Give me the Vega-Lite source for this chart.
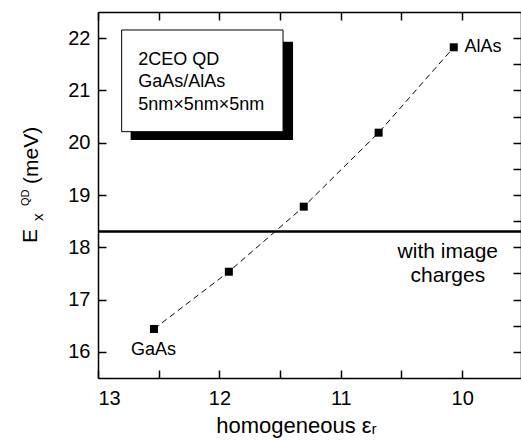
{
  "$schema": "https://vega.github.io/schema/vega-lite/v6.json",
  "width": 423,
  "height": 366,
  "autosize": "none",
  "padding": {"left": 98, "top": 12, "right": 0, "bottom": 63},
  "config": {
    "view": {"stroke": null},
    "font": "Liberation Sans",
    "axis": {
      "domainColor": "black",
      "domainWidth": 1.5,
      "tickColor": "black",
      "tickWidth": 1.5,
      "tickOpacity": 1,
      "labelColor": "black",
      "titleColor": "black",
      "labelFont": "Liberation Sans",
      "titleFont": "Liberation Sans",
      "labelFontSize": 20,
      "titleFontSize": 22,
      "titleFontWeight": "normal",
      "grid": false
    }
  },
  "datasets": {
    "pts": [
      {"eps": 12.539, "E": 16.438, "mat": "GaAs"},
      {"eps": 11.922, "E": 17.533, "mat": ""},
      {"eps": 11.305, "E": 18.777, "mat": ""},
      {"eps": 10.688, "E": 20.192, "mat": ""},
      {"eps": 10.069, "E": 21.825, "mat": "AlAs"}
    ],
    "box": [{"x1": 12.805, "x2": 11.4755, "y1": 22.156, "y2": 20.211}],
    "shadow": [{"x1": 12.731, "x2": 11.393, "y1": 21.932, "y2": 20.052}],
    "boxtext": [
      {"t": "2CEO QD", "x": 12.668, "y": 21.486},
      {"t": "GaAs/AlAs", "x": 12.668, "y": 21.071},
      {"t": "5nm×5nm×5nm", "x": 12.668, "y": 20.626}
    ],
    "lab_left": [{"t": "AlAs", "x": 9.981, "y": 21.836}],
    "lab_center": [{"t": "GaAs", "x": 12.543, "y": 15.94}],
    "lab_big": [
      {"t": "with image", "x": 10.118, "y": 17.79},
      {"t": "charges", "x": 10.118, "y": 17.342}
    ],
    "ytitle_big": [
      {"t": "E", "x": 13.5, "y": 18.082},
      {"t": "(meV)", "x": 13.494, "y": 19.211}
    ],
    "ytitle_sub": [{"t": "x", "x": 13.455, "y": 18.503}],
    "ytitle_sup": [{"t": "QD", "x": 13.57, "y": 18.79}]
  },
  "layer": [
    {
      "layer": [
        {
          "data": {"name": "shadow"},
          "mark": {"type": "rect", "fill": "black"},
          "encoding": {
            "x": {"field": "x1", "type": "quantitative", "scale": {"domain": [13, 9.515], "nice": false, "zero": false},
              "axis": {
                "orient": "bottom",
                "values": [13, 12.5, 12, 11.5, 11, 10.5, 10],
                "labelExpr": "datum.value % 1 === 0 ? format(datum.value, 'd') : ''",
                "ticks": true,
                "tickSize": -8,
                "labelPadding": 18,
                "title": "homogeneous εᵣ",
                "titlePadding": 7,
                "titleX": 198
              }},
            "x2": {"field": "x2"},
            "y": {"field": "y1", "type": "quantitative", "scale": {"domain": [15.5, 22.5], "nice": false, "zero": false},
              "axis": {
                "orient": "left",
                "values": [16, 16.5, 17, 17.5, 18, 18.5, 19, 19.5, 20, 20.5, 21, 21.5, 22],
                "labelExpr": "datum.value % 1 === 0 ? format(datum.value, 'd') : ''",
                "ticks": true,
                "tickSize": -8,
                "labelPadding": 16,
                "title": null
              }},
            "y2": {"field": "y2"}
          }
        },
        {
          "data": {"name": "box"},
          "mark": {"type": "rect", "fill": "white", "stroke": "black", "strokeWidth": 1},
          "encoding": {
            "x": {"field": "x1", "type": "quantitative"},
            "x2": {"field": "x2"},
            "y": {"field": "y1", "type": "quantitative"},
            "y2": {"field": "y2"}
          }
        },
        {
          "data": {"name": "boxtext"},
          "mark": {"type": "text", "align": "left", "baseline": "alphabetic", "fontSize": 18, "color": "black"},
          "encoding": {
            "x": {"field": "x", "type": "quantitative"},
            "y": {"field": "y", "type": "quantitative"},
            "text": {"field": "t"}
          }
        },
        {
          "data": {"name": "pts"},
          "mark": {"type": "rule", "color": "black", "strokeWidth": 1.5},
          "encoding": {"y": {"datum": 18.3}}
        },
        {
          "data": {"name": "pts"},
          "mark": {"type": "line", "color": "black", "strokeWidth": 1, "strokeDash": [6, 4]},
          "encoding": {
            "x": {"field": "eps", "type": "quantitative"},
            "y": {"field": "E", "type": "quantitative"}
          }
        },
        {
          "data": {"name": "pts"},
          "mark": {"type": "square", "color": "black", "filled": true, "opacity": 1, "size": 64},
          "encoding": {
            "x": {"field": "eps", "type": "quantitative"},
            "y": {"field": "E", "type": "quantitative"}
          }
        },
        {
          "data": {"name": "lab_left"},
          "mark": {"type": "text", "align": "left", "baseline": "middle", "fontSize": 18, "color": "black"},
          "encoding": {
            "x": {"field": "x", "type": "quantitative"},
            "y": {"field": "y", "type": "quantitative"},
            "text": {"field": "t"}
          }
        },
        {
          "data": {"name": "lab_center"},
          "mark": {"type": "text", "align": "center", "baseline": "alphabetic", "fontSize": 18, "color": "black"},
          "encoding": {
            "x": {"field": "x", "type": "quantitative"},
            "y": {"field": "y", "type": "quantitative"},
            "text": {"field": "t"}
          }
        },
        {
          "data": {"name": "lab_big"},
          "mark": {"type": "text", "align": "center", "baseline": "alphabetic", "fontSize": 21, "color": "black"},
          "encoding": {
            "x": {"field": "x", "type": "quantitative"},
            "y": {"field": "y", "type": "quantitative"},
            "text": {"field": "t"}
          }
        },
        {
          "data": {"name": "ytitle_big"},
          "mark": {"type": "text", "align": "left", "baseline": "alphabetic", "fontSize": 21, "angle": 270, "color": "black"},
          "encoding": {
            "x": {"field": "x", "type": "quantitative"},
            "y": {"field": "y", "type": "quantitative"},
            "text": {"field": "t"}
          }
        },
        {
          "data": {"name": "ytitle_sub"},
          "mark": {"type": "text", "align": "left", "baseline": "alphabetic", "fontSize": 15, "angle": 270, "color": "black"},
          "encoding": {
            "x": {"field": "x", "type": "quantitative"},
            "y": {"field": "y", "type": "quantitative"},
            "text": {"field": "t"}
          }
        },
        {
          "data": {"name": "ytitle_sup"},
          "mark": {"type": "text", "align": "left", "baseline": "alphabetic", "fontSize": 11, "angle": 270, "color": "black"},
          "encoding": {
            "x": {"field": "x", "type": "quantitative"},
            "y": {"field": "y", "type": "quantitative"},
            "text": {"field": "t"}
          }
        }
      ]
    },
    {
      "data": {"name": "pts"},
      "mark": {"type": "point", "opacity": 0},
      "encoding": {
        "x": {"field": "eps", "type": "quantitative",
          "axis": {
            "orient": "top",
            "values": [13, 12.5, 12, 11.5, 11, 10.5, 10],
            "labels": false,
            "ticks": true,
            "tickSize": -8,
            "title": null
          }},
        "y": {"field": "E", "type": "quantitative",
          "axis": {
            "orient": "right",
            "values": [16, 16.5, 17, 17.5, 18, 18.5, 19, 19.5, 20, 20.5, 21, 21.5, 22],
            "labels": false,
            "ticks": true,
            "tickSize": -8,
            "title": null
          }}
      }
    }
  ],
  "resolve": {"axis": {"x": "independent", "y": "independent"}}
}
